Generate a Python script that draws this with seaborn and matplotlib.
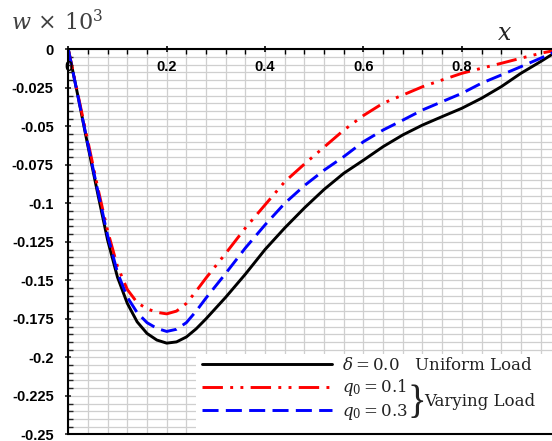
import matplotlib
matplotlib.use("Agg")
import matplotlib.pyplot as plt
import seaborn as sns
from matplotlib.patches import Rectangle
from matplotlib.ticker import FixedLocator, MultipleLocator

# positions along the beam
x = [0.0, 0.02, 0.04, 0.06, 0.08, 0.10, 0.12, 0.14, 0.16, 0.18, 0.20, 0.22, 0.24,
     0.26, 0.28, 0.30, 0.32, 0.36, 0.40, 0.44, 0.48, 0.52, 0.56, 0.60, 0.64, 0.68,
     0.72, 0.76, 0.80, 0.84, 0.88, 0.92, 0.96, 1.00]

# deflection w x 10^3
w_uniform = [0.0, -0.031, -0.063, -0.094, -0.124, -0.148, -0.165, -0.177, -0.1845, -0.1888,
             -0.1908, -0.1900, -0.1868, -0.1815, -0.1750, -0.168, -0.161, -0.146, -0.130,
             -0.116, -0.103, -0.091, -0.0805, -0.072, -0.0632, -0.0556, -0.0492, -0.0437,
             -0.0383, -0.0318, -0.0243, -0.0156, -0.008, 0.0]
w_q01 = [0.0, -0.030, -0.060, -0.090, -0.118, -0.141, -0.156, -0.1645, -0.1685, -0.1708,
         -0.1718, -0.1700, -0.1650, -0.1570, -0.1485, -0.1405, -0.1325, -0.116, -0.101,
         -0.086, -0.0745, -0.0635, -0.0525, -0.043, -0.035, -0.0297, -0.0243, -0.0199,
         -0.0156, -0.0123, -0.0091, -0.0058, -0.0026, 0.0]
w_q03 = [0.0, -0.031, -0.062, -0.092, -0.121, -0.145, -0.161, -0.171, -0.1775, -0.1812,
         -0.1832, -0.1818, -0.1775, -0.1700, -0.1615, -0.1535, -0.1455, -0.129, -0.114,
         -0.100, -0.0885, -0.0785, -0.0697, -0.060, -0.0524, -0.046, -0.0394, -0.034,
         -0.0286, -0.022, -0.0167, -0.0113, -0.0058, 0.0]

series_labels = [r"$\delta = 0.0$   Uniform Load", r"$q_0 = 0.1$", r"$q_0 = 0.3$"]
x_ticks = [0.0, 0.2, 0.4, 0.6, 0.8]
x_ticklabels = ["0", "0.2", "0.4", "0.6", "0.8"]
y_ticks = [0.0, -0.025, -0.05, -0.075, -0.1, -0.125, -0.15, -0.175, -0.2, -0.225, -0.25]
y_ticklabels = ["0", "-0.025", "-0.05", "-0.075", "-0.1", "-0.125", "-0.15",
                "-0.175", "-0.2", "-0.225", "-0.25"]

sns.set_style("white")
plt.rcParams["mathtext.fontset"] = "dejavuserif"
plt.rcParams["font.family"] = ["Liberation Sans", "DejaVu Sans"]

W, H = 552, 441
fig = plt.figure(figsize=(W / 100, H / 100), dpi=100)
ax = fig.add_axes([68.3 / W, 6.7 / H, (W - 68.3) / W, 385 / H])

sns.lineplot(x=x, y=w_uniform, ax=ax, color="black", lw=2.1, sort=False,
             label=series_labels[0])
sns.lineplot(x=x, y=w_q01, ax=ax, color="#ff0000", lw=2.1, sort=False,
             linestyle=(0, (7, 2.5, 1, 2.5, 1, 2.5)), label=series_labels[1])
sns.lineplot(x=x, y=w_q03, ax=ax, color="#0000ff", lw=2.1, sort=False,
             linestyle=(0, (5.5, 2.5)), label=series_labels[2])

ax.set_xlim(0, 0.9833)
ax.set_ylim(-0.25, 0)
ax.set_xlabel("")
ax.set_ylabel("")

ax.xaxis.set_major_locator(FixedLocator(x_ticks))
ax.xaxis.set_minor_locator(MultipleLocator(0.04))
ax.yaxis.set_major_locator(FixedLocator(y_ticks))
ax.yaxis.set_minor_locator(MultipleLocator(0.005))
ax.set_yticklabels(y_ticklabels)

ax.tick_params(axis="x", which="both", top=True, bottom=False, labeltop=False,
               labelbottom=False, color="black")
ax.tick_params(axis="x", which="major", direction="inout", length=5, width=1.2)
ax.tick_params(axis="x", which="minor", direction="in", length=3.5, width=1.0)
ax.tick_params(axis="y", which="major", direction="inout", length=5, width=1.2, pad=8,
               left=True, labelsize=10.5, labelcolor="black")
ax.tick_params(axis="y", which="minor", direction="in", length=3.5, width=1.0, left=True)
for tick in ax.yaxis.get_major_ticks():
    tick.label1.set_fontweight("bold")

# x tick labels sit just under the top axis line, above the grid
for xv, lab in zip(x_ticks, x_ticklabels):
    ax.text(xv, -0.0115, lab, fontsize=10.5, fontweight="bold", color="black",
            ha="center", va="center", zorder=2.5)

ax.grid(True, which="both", color="#cfcfcf", lw=0.9)
ax.set_axisbelow(True)

for side in ["left", "top", "bottom"]:
    ax.spines[side].set_color("black")
    ax.spines[side].set_linewidth(1.5)
ax.spines["right"].set_visible(False)

# white panel behind the legend
ax.add_patch(Rectangle((196 / W, 6.7 / H), (W - 196) / W, (433.5 - 353) / H,
                       transform=fig.transFigure, facecolor="white", edgecolor="none",
                       zorder=1.5))

handles = ax.get_lines()[:3]
ax.legend(handles=handles, labels=series_labels, loc="upper left",
          bbox_to_anchor=(202 / W, 1 - 357 / H), bbox_transform=fig.transFigure,
          frameon=False, borderpad=0, borderaxespad=0, handlelength=7.8,
          handletextpad=0.6, labelspacing=0.2,
          prop={"family": "DejaVu Serif", "size": 12}, labelcolor="#222222")

fig.text(407 / W, 1 - 413 / H, "}", fontsize=28, family="Liberation Serif",
         color="#222222", va="baseline", ha="left")
fig.text(424 / W, 1 - 406 / H, "Varying Load", fontsize=12, family="DejaVu Serif",
         color="#222222", va="baseline", ha="left")

fig.text(11 / W, 1 - 30 / H, r"$w\,\times\,10^3$", fontsize=16, color="#404040",
         va="baseline", ha="left")
fig.text(497 / W, 1 - 40 / H, r"$x$", fontsize=17, color="#222222",
         va="baseline", ha="left")

fig.savefig("out.png", dpi=100)
